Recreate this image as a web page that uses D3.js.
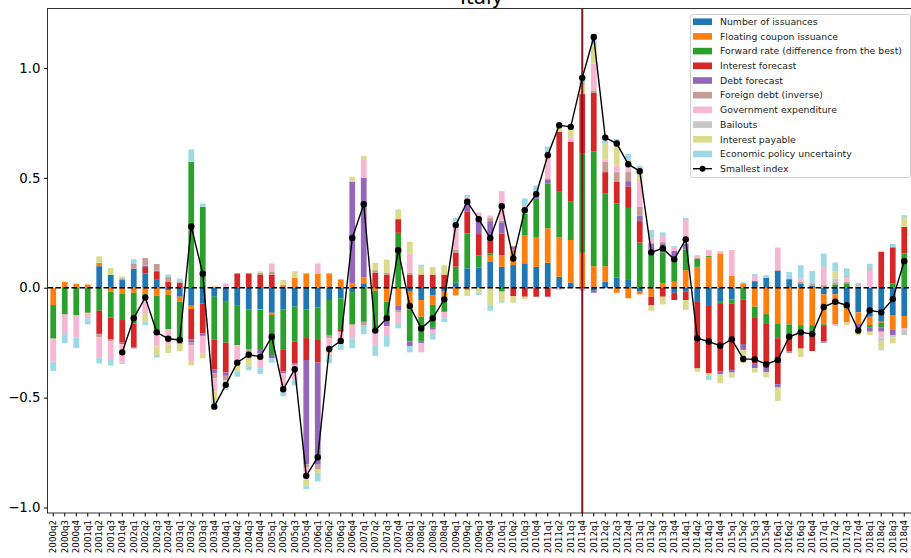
<!DOCTYPE html>
<html>
<head>
<meta charset="utf-8">
<script src="https://cdn.jsdelivr.net/npm/d3@7"></script>
<style>
body { margin: 0; background: #fff; }
svg { font-family: "DejaVu Sans", sans-serif; }
</style>
</head>
<body>
<svg id="chart" width="911" height="558"></svg>
<script>
// quarters on the x axis
var quarters = [
  "2000q2","2000q3","2000q4",
  "2001q1","2001q2","2001q3","2001q4",
  "2002q1","2002q2","2002q3","2002q4",
  "2003q1","2003q2","2003q3","2003q4",
  "2004q1","2004q2","2004q3","2004q4",
  "2005q1","2005q2","2005q3","2005q4",
  "2006q1","2006q2","2006q3","2006q4",
  "2007q1","2007q2","2007q3","2007q4",
  "2008q1","2008q2","2008q3","2008q4",
  "2009q1","2009q2","2009q3","2009q4",
  "2010q1","2010q2","2010q3","2010q4",
  "2011q1","2011q2","2011q3","2011q4",
  "2012q1","2012q2","2012q3","2012q4",
  "2013q1","2013q2","2013q3","2013q4",
  "2014q1","2014q2","2014q3","2014q4",
  "2015q1","2015q2","2015q3","2015q4",
  "2016q1","2016q2","2016q3","2016q4",
  "2017q1","2017q2","2017q3","2017q4",
  "2018q1","2018q2","2018q3","2018q4"
];

// contributions of each component
var issuances = [0,0,0,0,0.098,0.058,0.035,0.086,0.065,0.039,
  -0.01,-0.041,-0.082,-0.071,-0.041,-0.064,-0.079,-0.098,-0.098,-0.114,
  -0.098,-0.086,-0.1,-0.089,-0.056,-0.048,-0.02,0.02,0,0,
  0,-0.018,-0.056,-0.033,-0.018,0.023,0.088,0.091,0.117,0.095,
  0.103,0.111,0.095,0.114,0.05,0.023,0,-0.014,0.027,0.047,
  0.039,-0.018,0,0,-0.023,-0.018,-0.061,-0.083,-0.064,-0.053,
  0,0.03,0.045,0.077,0.039,0.017,0.01,-0.03,-0.03,-0.094,
  -0.112,-0.132,-0.155,-0.124,-0.129];
var floating = [-0.079,0.027,0.018,0.015,0.015,-0.018,-0.026,-0.023,-0.03,-0.036,
  -0.022,-0.023,-0.015,0,0.005,0,0,0,-0.003,-0.01,
  0.012,0.045,0.065,0.065,0.065,0.038,0.02,0.026,-0.014,-0.064,
  -0.083,-0.08,-0.076,-0.045,-0.03,-0.035,-0.01,0,0.029,0.053,
  0.07,0.129,0.133,0.156,0.179,0.194,0.159,0.098,0.071,-0.023,
  -0.048,-0.012,-0.041,0.02,0.027,0.08,0.095,0.138,0.156,0.055,
  0.02,-0.086,-0.12,-0.162,-0.167,-0.17,-0.17,-0.136,-0.136,-0.064,
  -0.05,-0.038,-0.005,-0.068,-0.056];
var forward = [-0.152,-0.12,-0.126,-0.114,-0.105,-0.118,-0.121,-0.14,-0.005,-0.168,
  -0.156,-0.186,0.573,0.368,-0.194,-0.186,-0.182,-0.182,-0.182,-0.182,
  -0.182,-0.159,-0.129,-0.145,-0.159,-0.144,-0.147,-0.155,-0.171,-0.091,
  0.25,-0.147,-0.111,-0.101,-0.062,0.073,0.159,0.055,0.01,-0.018,
  0,0.098,0.177,0.205,0.211,0.177,0.452,0.523,0.33,0.336,
  0.324,0.205,0.164,0.141,0.114,0.094,0.038,0.006,-0.01,-0.018,
  -0.053,-0.048,-0.045,-0.068,-0.048,-0.042,-0.03,-0.008,0.015,0.02,
  0,-0.012,-0.022,0.02,0.156];
var interestFc = [0,0,0,0,-0.105,-0.1,-0.103,-0.109,0.029,0.033,
  0.027,0.024,-0.138,-0.136,-0.136,-0.136,0.065,0.065,0.058,0.06,
  -0.1,-0.1,-0.1,-0.106,0,-0.008,0,0,0.068,0.06,
  0.062,0.06,0.06,0.06,0.06,0.064,0.098,0.098,0.076,0.098,
  -0.038,-0.041,-0.041,-0.041,0.27,0.27,0.27,0.265,0.098,0.098,
  0.098,0.098,-0.038,-0.041,-0.033,-0.038,-0.306,-0.306,-0.308,-0.303,
  -0.203,-0.209,-0.2,-0.209,-0.073,-0.065,-0.088,-0.071,0,0,
  0,0,0.164,0.164,0.121];
var debtFc = [0,0,0,0,0,0,-0.006,-0.004,0.006,0.006,
  0,0,-0.015,-0.012,-0.018,-0.015,0,0,-0.015,-0.015,
  -0.008,-0.006,-0.474,-0.465,0,0,0.462,0.455,0,-0.02,
  -0.021,-0.02,-0.01,-0.012,0,0,0.045,0.059,0.071,0.052,
  0.012,0,0.015,0.015,0,0,0,-0.009,0,0,
  0.024,0.024,0.038,0.041,0.026,0.025,0,0,-0.012,-0.012,
  -0.027,-0.023,-0.02,-0.015,0,0,0,-0.005,0,0,
  -0.023,-0.018,-0.018,-0.023,0];
var foreignDebt = [-0.004,-0.003,0,0,-0.015,-0.006,0.008,0.022,0.035,0.03,
  0.023,-0.006,-0.012,0,-0.023,-0.021,0,-0.018,0.01,0.012,
  0,0,-0.015,-0.02,-0.015,0,-0.005,-0.015,0.012,0.009,
  -0.009,0.008,0,0,0,0.012,0.01,0,0.015,0.008,
  0.005,0,0,0.008,0,0,0,0.012,0.048,0.045,
  0.041,0.041,0,0.008,0,0,0.005,0,0,0,
  0,0,0,0.006,-0.01,0.01,0.01,0.012,0.009,0.008,
  0,0,0,0,0];
var govExp = [-0.1,-0.088,-0.1,-0.026,-0.094,-0.082,-0.085,0,-0.08,-0.064,
  -0.071,0,-0.076,-0.079,-0.06,0.02,-0.076,0,-0.068,0.038,
  -0.08,-0.07,-0.053,0.045,-0.068,-0.038,-0.058,0.08,-0.08,-0.045,
  -0.052,0.088,-0.041,-0.015,-0.029,0.124,0.012,0.039,0.01,0.133,
  0,0.038,0,0.114,-0.01,0.018,-0.015,0.121,0.008,0.03,
  0.018,0.117,0.023,0.03,0.015,0.109,0.01,0.027,0.01,0.117,
  0,0.023,0,0.1,0,0.015,0,0.083,-0.008,0.015,
  0,0.076,-0.027,0,-0.008];
var bailouts = [0,0,0,0,0,0,0,0,0,0,
  0,0,0,0,0,0,0,0,0,0,
  0,0,0,0,0,0,0,0,0,0,
  0,0,0,0,0,0,0,0,0,0,
  0,0,0,0,0,0,0,0,0,0,
  0,0,0,0,0,0,0,0,0,0,
  0,0,0,0,0,0,0,0,0.018,0.015,
  0.017,0.018,-0.015,-0.012,-0.023];
var intPayable = [0,0,0,0,0.03,0.032,0.008,0,-0.038,-0.038,
  -0.038,-0.032,-0.015,-0.023,-0.045,-0.02,-0.045,-0.06,0.006,0,
  0.023,0.03,-0.03,-0.018,-0.008,0,0.023,0.018,0.033,0.059,
  0.044,0.053,0.035,0.035,0.042,0,-0.027,-0.023,-0.079,-0.042,
  -0.03,-0.012,0,0,0.023,0.042,0.041,0.083,0.073,0.098,
  0.042,0.05,-0.026,-0.035,0,-0.045,-0.015,-0.012,-0.041,-0.023,
  -0.061,-0.02,-0.023,-0.061,0,-0.038,0,0,0.033,-0.012,
  -0.03,-0.015,-0.038,-0.026,0.045];
var epu = [-0.044,-0.041,-0.048,-0.027,-0.026,-0.03,-0.006,0.022,-0.018,-0.012,
  0.01,0.018,0.056,0.015,-0.015,-0.023,-0.023,-0.018,-0.026,-0.02,
  -0.026,-0.024,-0.015,-0.038,-0.038,-0.045,-0.045,-0.042,-0.045,-0.048,
  -0.02,-0.029,0.01,-0.03,-0.018,0.023,0.01,-0.01,-0.026,-0.008,
  0,0.03,0.045,0.03,0.015,0,0.045,0.053,0.015,0.023,
  0.023,0.02,0.038,0.012,0.008,0.01,0,-0.018,0,0,
  0.005,0.009,0.012,0,0.033,0.06,0.056,0.06,0.04,0.03,
  0.005,0.015,-0.005,0.015,0.008];

// the black line
var smallestIndex = [null,null,null,null,null,null,-0.294,-0.139,-0.044,-0.203,
  -0.232,-0.238,0.279,0.064,-0.541,-0.442,-0.341,-0.305,-0.314,-0.223,
  -0.462,-0.371,-0.856,-0.771,-0.279,-0.242,0.226,0.38,-0.195,-0.139,
  0.171,-0.083,-0.185,-0.139,-0.053,0.285,0.391,0.312,0.226,0.371,
  0.133,0.353,0.426,0.603,0.739,0.732,0.955,1.141,0.683,0.656,
  0.562,0.53,0.161,0.179,0.129,0.22,-0.23,-0.245,-0.264,-0.235,
  -0.324,-0.326,-0.348,-0.329,-0.223,-0.203,-0.211,-0.088,-0.064,-0.08,
  -0.195,-0.103,-0.112,-0.052,0.121];

var seriesNames = ["Number of issuances", "Floating coupon issuance",
  "Forward rate (difference from the best)", "Interest forecast", "Debt forecast",
  "Foreign debt (inverse)", "Government expenditure", "Bailouts",
  "Interest payable", "Economic policy uncertainty"];
var seriesValues = [issuances, floating, forward, interestFc, debtFc,
  foreignDebt, govExp, bailouts, intPayable, epu];
var colors = ["#1f77b4", "#ff7f0e", "#2ca02c", "#d62728", "#9467bd",
  "#c49c94", "#f7b6d2", "#c7c7c7", "#dbdb8d", "#9edae5"];
var markerQuarter = "2011q4";
var yTicks = [-1, -0.5, 0, 0.5, 1];

// plot box (window.top is reserved, so prefixed names)
var pLeft = 47.5, pRight = 916, pTop = 8.6, pBottom = 513;

var svg = d3.select("#chart");

var x = d3.scaleBand()
  .domain(quarters)
  .range([pLeft, pLeft + 11.5 * quarters.length])
  .paddingInner(0.5)
  .paddingOuter(0.25);

var y = d3.scaleLinear()
  .domain([-1.025, 1.27])
  .range([pBottom, pTop]);

var color = d3.scaleOrdinal().domain(seriesNames).range(colors);

// table for stacking
var table = quarters.map(function(q, i) {
  var row = { quarter: q };
  seriesNames.forEach(function(n, k) { row[n] = seriesValues[k][i]; });
  return row;
});
var stacked = d3.stack()
  .keys(seriesNames)
  .offset(d3.stackOffsetDiverging)(table);

svg.append("defs").append("clipPath").attr("id", "plotclip")
  .append("rect")
  .attr("x", pLeft).attr("y", pTop)
  .attr("width", pRight - pLeft).attr("height", pBottom - pTop);

var plot = svg.append("g").attr("clip-path", "url(#plotclip)");

plot.selectAll("g.layer")
  .data(stacked)
  .enter()
  .append("g")
  .attr("class", "layer")
  .attr("fill", function(d) { return color(d.key); })
  .selectAll("rect")
  .data(function(d) { return d; })
  .enter()
  .append("rect")
  .attr("x", function(d) { return x(d.data.quarter); })
  .attr("width", x.bandwidth())
  .attr("y", function(d) { return y(Math.max(d[0], d[1])); })
  .attr("height", function(d) { return Math.abs(y(d[0]) - y(d[1])); });

// dashed zero line
plot.append("line")
  .attr("x1", pLeft).attr("x2", pRight)
  .attr("y1", y(0)).attr("y2", y(0))
  .attr("stroke", "#000")
  .attr("stroke-width", 1.5)
  .attr("stroke-dasharray", "5.5,2.5");

// vertical marker
var vx = x(markerQuarter) + x.bandwidth() / 2;
plot.append("line")
  .attr("x1", vx).attr("x2", vx)
  .attr("y1", pTop).attr("y2", pBottom)
  .attr("stroke", "#8c1020")
  .attr("stroke-width", 2);

// smallest index line
var cx = function(i) { return x(quarters[i]) + x.bandwidth() / 2; };
var line = d3.line()
  .defined(function(d) { return d != null; })
  .x(function(d, i) { return cx(i); })
  .y(function(d) { return y(d); });

plot.append("path")
  .datum(smallestIndex)
  .attr("fill", "none")
  .attr("stroke", "#000")
  .attr("stroke-width", 1.4)
  .attr("d", line);

plot.selectAll("circle.pt")
  .data(smallestIndex.map(function(v, i) { return { v: v, i: i }; })
    .filter(function(d) { return d.v != null; }))
  .enter()
  .append("circle")
  .attr("class", "pt")
  .attr("cx", function(d) { return cx(d.i); })
  .attr("cy", function(d) { return y(d.v); })
  .attr("r", 3.2)
  .attr("fill", "#000");

// frame
svg.append("rect")
  .attr("x", pLeft).attr("y", pTop)
  .attr("width", pRight - pLeft).attr("height", pBottom - pTop)
  .attr("fill", "none")
  .attr("stroke", "#000")
  .attr("stroke-width", 0.8);

// axes
var yAxis = svg.append("g")
  .attr("transform", "translate(" + pLeft + ",0)")
  .call(d3.axisLeft(y).tickValues(yTicks).tickSize(3.5).tickPadding(3.5)
    .tickFormat(d3.format(".1f")));
yAxis.select(".domain").remove();
yAxis.selectAll("text").attr("font-size", "13.3px").attr("fill", "#000")
  .attr("font-family", "DejaVu Sans");

var xAxis = svg.append("g")
  .attr("transform", "translate(0," + pBottom + ")")
  .call(d3.axisBottom(x).tickSize(3.5).tickPadding(3.5));
xAxis.select(".domain").remove();
xAxis.selectAll("text")
  .attr("font-size", "8.7px")
  .attr("fill", "#000")
  .attr("font-family", "DejaVu Sans")
  .attr("text-anchor", "end")
  .attr("transform", "rotate(-90)")
  .attr("x", -7)
  .attr("y", 0)
  .attr("dy", "0.35em");

// title
svg.append("text")
  .attr("x", (pLeft + pRight) / 2)
  .attr("y", 4)
  .attr("text-anchor", "middle")
  .attr("font-size", "20px")
  .text("Italy");

// legend
var legend = svg.append("g");
legend.append("rect")
  .attr("x", 690.5).attr("y", 14.5)
  .attr("width", 220).attr("height", 163)
  .attr("rx", 2)
  .attr("fill", "#fff").attr("fill-opacity", 0.8)
  .attr("stroke", "#d0d0d0");

var rowY = function(k) { return 21.7 + 14.7 * k; };

legend.selectAll("rect.sw")
  .data(seriesNames)
  .enter()
  .append("rect")
  .attr("class", "sw")
  .attr("x", 693).attr("width", 19)
  .attr("y", function(d, k) { return rowY(k) - 3.3; })
  .attr("height", 6.6)
  .attr("fill", function(d) { return color(d); });

legend.selectAll("text.lab")
  .data(seriesNames.concat(["Smallest index"]))
  .enter()
  .append("text")
  .attr("class", "lab")
  .attr("x", 720)
  .attr("y", function(d, k) { return rowY(k); })
  .attr("dy", "0.35em")
  .attr("font-size", "9.3px")
  .attr("fill", "#222")
  .text(function(d) { return d; });

var ly = rowY(10);
legend.append("line")
  .attr("x1", 693).attr("x2", 712)
  .attr("y1", ly).attr("y2", ly)
  .attr("stroke", "#000").attr("stroke-width", 1.4);
legend.append("circle")
  .attr("cx", 702.5).attr("cy", ly).attr("r", 3)
  .attr("fill", "#000");
</script>
</body>
</html>
